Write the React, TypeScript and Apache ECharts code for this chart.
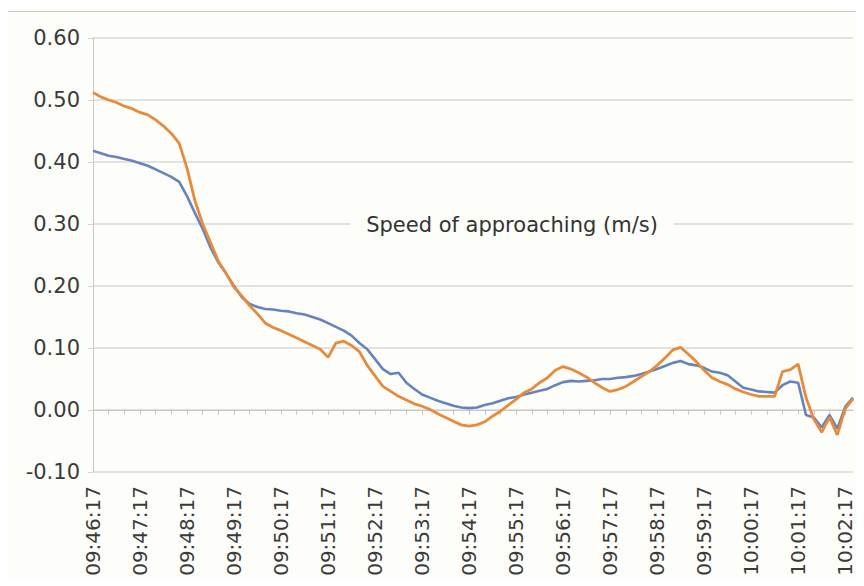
import React, { useEffect, useRef } from "react";
import * as echarts from "echarts";

// Time categories every 10 s starting 09:46:17
const startSeconds = 9 * 3600 + 46 * 60 + 17;
const pointCount = 98;
const categories: string[] = [];
for (let i = 0; i < pointCount; i++) {
  const s = startSeconds + i * 10;
  const hh = String(Math.floor(s / 3600)).padStart(2, "0");
  const mm = String(Math.floor((s % 3600) / 60)).padStart(2, "0");
  const ss = String(s % 60).padStart(2, "0");
  categories.push(`${hh}:${mm}:${ss}`);
}

const blueSeries = [
  0.418, 0.414, 0.41, 0.408, 0.405, 0.402, 0.398, 0.394, 0.388, 0.382,
  0.376, 0.368, 0.345, 0.318, 0.292, 0.262, 0.238, 0.22, 0.2, 0.182,
  0.171, 0.166, 0.163, 0.162, 0.16, 0.159, 0.156, 0.154, 0.15, 0.146,
  0.14, 0.134, 0.128, 0.12, 0.108, 0.098, 0.082, 0.066, 0.058, 0.06,
  0.044, 0.034, 0.025, 0.02, 0.015, 0.011, 0.007, 0.004, 0.003, 0.004,
  0.008, 0.011, 0.015, 0.019, 0.021, 0.025, 0.028, 0.031, 0.034, 0.04,
  0.045, 0.047, 0.046, 0.047, 0.048, 0.05, 0.05, 0.052, 0.053, 0.055,
  0.058, 0.062, 0.066, 0.071, 0.076, 0.079, 0.074, 0.072, 0.068, 0.062,
  0.06, 0.056, 0.046, 0.036, 0.033, 0.03, 0.029, 0.028, 0.04, 0.046,
  0.044, -0.008, -0.012, -0.028, -0.008, -0.03, 0.005, 0.02,
];

const orangeSeries = [
  0.512, 0.505, 0.5, 0.496, 0.49, 0.486, 0.48, 0.476, 0.468, 0.458,
  0.446, 0.43, 0.39, 0.338, 0.3, 0.27, 0.24, 0.22, 0.198, 0.184,
  0.168, 0.155, 0.14, 0.133, 0.128, 0.122, 0.116, 0.11, 0.104, 0.098,
  0.085, 0.108, 0.111, 0.104, 0.094, 0.072, 0.055, 0.038, 0.03, 0.022,
  0.016, 0.01, 0.006, 0.001, -0.006, -0.012, -0.018, -0.024, -0.026, -0.024,
  -0.019, -0.01, -0.002, 0.008, 0.017, 0.028, 0.034, 0.044, 0.052, 0.064,
  0.07, 0.066, 0.06, 0.053, 0.044, 0.036, 0.03, 0.033, 0.038, 0.046,
  0.054, 0.062, 0.072, 0.084, 0.097, 0.101, 0.09, 0.078, 0.064, 0.052,
  0.046, 0.041, 0.034, 0.029, 0.025, 0.022, 0.022, 0.022, 0.062, 0.065,
  0.074, 0.02, -0.015, -0.036, -0.012, -0.04, 0.002, 0.018,
];

const titleText = "Speed of approaching (m/s)";

export default function App() {
  const ref = useRef<HTMLDivElement>(null);
  useEffect(() => {
    if (!ref.current) return;
    const chart = echarts.init(ref.current, null, { renderer: "svg" });
    chart.setOption({
      animation: false,
      backgroundColor: "#fdfdf9",
      textStyle: { fontFamily: "DejaVu Sans" },
      grid: { left: 93, right: 11, top: 38, bottom: 114, containLabel: false },
      graphic: [
        {
          type: "rect",
          shape: { x: 5.5, y: 11.5, width: 900, height: 620 },
          style: { fill: "none", stroke: "#c8c8c8", lineWidth: 1 },
          silent: true,
          z: -1,
        },
      ],
      title: {
        text: titleText,
        left: 496,
        top: 219,
        textAlign: "center",
        textVerticalAlign: "middle",
        backgroundColor: "#fdfdf9",
        padding: [6, 16],
        textStyle: {
          fontFamily: "DejaVu Sans",
          fontSize: 21,
          fontWeight: "normal",
          color: "#333333",
        },
      },
      xAxis: {
        type: "category",
        data: categories,
        boundaryGap: false,
        axisLine: { show: true, lineStyle: { color: "#c8c8c8", width: 1 } },
        axisTick: {
          show: true,
          interval: 1,
          length: 5,
          lineStyle: { color: "#c8c8c8" },
        },
        axisLabel: {
          interval: 5,
          rotate: 90,
          margin: 14,
          fontSize: 20,
          fontFamily: "DejaVu Sans",
          color: "#3a3a3a",
          padding: [0, 0, 8, 0],
        },
        splitLine: { show: false },
      },
      yAxis: {
        type: "value",
        min: -0.1,
        max: 0.6,
        interval: 0.1,
        axisLine: { show: true, lineStyle: { color: "#c8c8c8", width: 1 } },
        axisTick: { show: true, length: 5, lineStyle: { color: "#d4d4d4" } },
        axisLabel: {
          margin: 13,
          fontSize: 21,
          fontFamily: "DejaVu Sans",
          color: "#3a3a3a",
          formatter: (v: number) => (Math.round(v * 100) / 100).toFixed(2),
        },
        splitLine: { show: true, lineStyle: { color: "#d9d9d9", width: 1.5 } },
      },
      series: [
        {
          name: "blue",
          type: "line",
          data: blueSeries,
          showSymbol: false,
          lineStyle: { color: "#6583bd", width: 2.6 },
          itemStyle: { color: "#6583bd" },
        },
        {
          name: "orange",
          type: "line",
          data: orangeSeries,
          showSymbol: false,
          lineStyle: { color: "#e88a3c", width: 2.8 },
          itemStyle: { color: "#e88a3c" },
        },
      ],
    });
    return () => chart.dispose();
  }, []);
  return <div ref={ref} style={{ width: 864, height: 586, margin: -8 }} />;
}
